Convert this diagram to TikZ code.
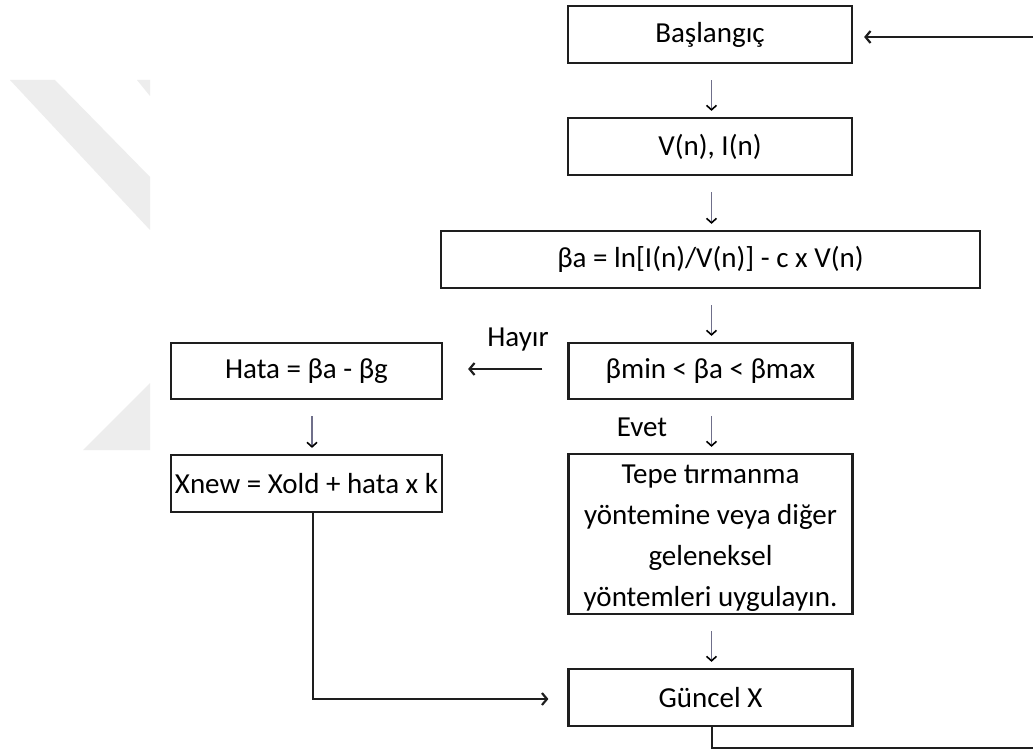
\documentclass[tikz,border=0pt]{standalone}
\usepackage{fontspec}
\setmainfont{Carlito}
\usetikzlibrary{arrows.meta}
\definecolor{boxline}{HTML}{1E1E1E}
\definecolor{wm}{HTML}{EDEDED}
\definecolor{stem}{HTML}{6F6F8A}
\begin{document}
\begin{tikzpicture}[x=1pt,y=-1pt,
  box/.style={draw=boxline,line width=2.2pt,minimum height=57pt,minimum width=284pt,inner sep=0pt,font=\fontsize{29}{41}\selectfont,text=black},
  lbl/.style={font=\fontsize{29}{34}\selectfont,inner sep=0pt,text=black},
  downarrow/.style={draw=stem,line width=1.2pt,-{Straight Barb[length=4.5pt,width=10pt,color=black,line width=1.6pt]},shorten <=16pt,shorten >=6pt},
  longarrow/.style={draw=boxline,line width=2.2pt,-{Straight Barb[length=5pt,width=12pt]}},
]
\useasboundingbox (0,0) rectangle (1033,751);
\clip (0,0) rectangle (1033,751);
\fill[white] (0,0) rectangle (1033,751);
% watermark
\fill[wm] (10,80) -- (55,80) -- (150,177) -- (150,230) -- cycle;
\fill[wm] (137,80) -- (150,80) -- (150,96) -- cycle;
\fill[wm] (83,450) -- (150,450) -- (150,383) -- cycle;
% nodes
\node[box] (start) at (710,34.5) {Başlangıç};
\node[box] (vi) at (710,146.5) {V(n), I(n)};
\node[box,minimum width=539pt] (beta) at (710.5,259.5) {βa = ln[I(n)/V(n)] - c x V(n)};
\node[box,minimum height=56pt] (cond) at (710.5,371) {βmin < βa < βmax};
\node[box,minimum width=271pt,minimum height=56pt] (hata) at (306.5,371) {Hata = βa - βg};
\node[box,minimum width=271pt] (xnew) at (306.5,483.5) {Xnew = Xold + hata x k};
\node[box,minimum height=160pt,align=center] (tepe) at (710.5,534) {\rule{0pt}{26pt}Tepe tırmanma\\yöntemine veya diğer\\geleneksel\\yöntemleri uygulayın.};
\node[box] (guncel) at (710.5,697.5) {Güncel X};
\node[lbl] (hayir) at (518,340) {Hayır};
\node[lbl] (evet) at (642,427) {Evet};
\coordinate (rtop) at (1045,37);
\coordinate (rbot) at (1045,748);
% connectors
\draw[downarrow] ([xshift=1.5pt]start.south) -- ([xshift=1.5pt]vi.north);
\draw[downarrow] ([xshift=1.5pt]vi.south) -- ([xshift=1pt]beta.north);
\draw[downarrow] ([xshift=1pt]beta.south) -- ([xshift=1pt]cond.north);
\draw[downarrow] ([xshift=1pt]cond.south) -- ([xshift=1pt]tepe.north);
\draw[downarrow] ([xshift=1pt]tepe.south) -- ([xshift=1pt]guncel.north);
\draw[downarrow] ([xshift=5.5pt]hata.south) -- ([xshift=5.5pt]xnew.north);
\draw[longarrow,shorten <=25pt,shorten >=25pt] ([yshift=2pt]cond.west) -- ([yshift=2pt]hata.east);
\draw[longarrow,shorten >=19pt] ([xshift=6.5pt]xnew.south) |- ([yshift=-1.5pt]guncel.west);
\draw[longarrow,shorten >=11pt] ([xshift=1.5pt]guncel.south) |- (rbot) -- (rtop) -- (start.east |- rtop);
\end{tikzpicture}
\end{document}
